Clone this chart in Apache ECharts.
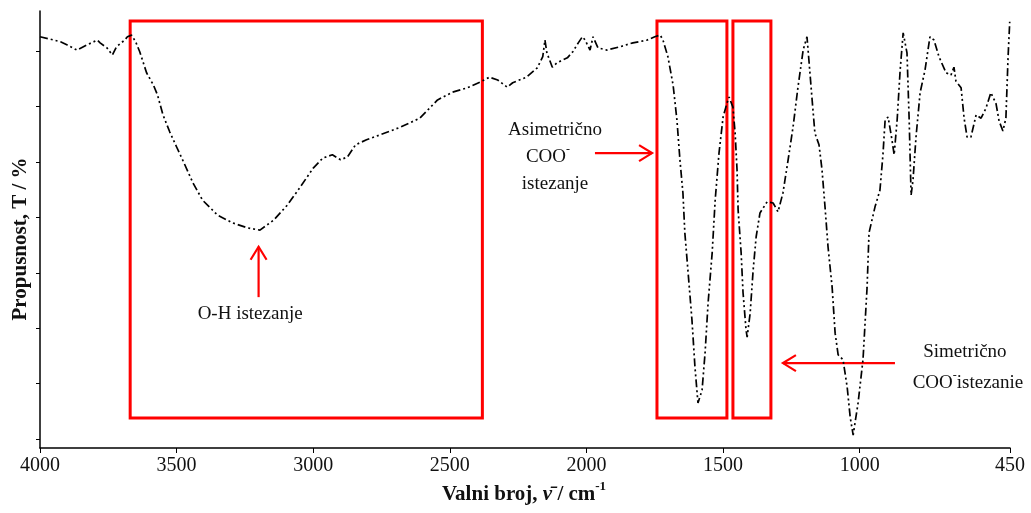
<!DOCTYPE html>
<html>
<head>
<meta charset="utf-8">
<script src="https://cdn.jsdelivr.net/npm/echarts@6/dist/echarts.min.js"></script>
<style>
html,body{margin:0;padding:0;background:#fff;}
#main{width:1031px;height:513px;}
</style>
</head>
<body>
<div id="main"></div>
<script>
// ---- data ----
const wavenumber = [4000,3965,3925,3900,3865,3830,3790,3780,3755,3735,3720,3690,3680,3665,3650,3635,3610,3585,3570,3550,3525,3500,3470,3440,3405,3350,3295,3240,3195,3145,3095,3050,3000,2965,2930,2900,2875,2845,2805,2755,2680,2610,2545,2490,2435,2390,2355,2325,2290,2270,2220,2180,2160,2152,2145,2125,2108,2070,2050,2030,2015,2005,1987,1976,1958,1925,1877,1830,1778,1750,1730,1720,1702,1683,1669,1658,1647,1640,1628,1614,1603,1592,1577,1566,1555,1540,1529,1515,1500,1486,1478,1464,1456,1449,1445,1434,1427,1416,1412,1401,1390,1379,1365,1339,1317,1299,1281,1262,1244,1226,1207,1193,1186,1175,1164,1149,1138,1127,1116,1101,1090,1079,1061,1046,1035,1024,1006,988,973,966,944,926,915,907,896,882,874,863,852,841,827,819,812,805,794,779,761,743,728,710,684,666,655,648,629,618,607,593,574,556,538,520,501,490,476,465,457,451];
const transmittance = [82.6,82.2,81.7,81.1,80.2,81.1,82.0,81.5,80.6,79.3,80.8,82.0,82.6,82.9,81.7,79.9,76.1,73.9,72.1,68.5,65.4,62.7,59.5,56.2,53.1,50.4,49.0,48.1,47.7,49.5,52.2,55.3,58.9,60.7,61.3,60.4,60.9,63.1,64.0,64.9,66.3,67.9,71.2,72.6,73.4,74.4,75.3,74.8,73.5,74.3,75.3,77.0,79.0,82.0,79.7,77.1,77.9,78.8,79.9,81.5,82.6,82.0,80.2,82.6,80.6,80.2,80.8,81.5,82.0,82.6,82.9,82.0,79.0,73.9,67.6,60.4,54.4,47.2,40.0,31.5,23.0,16.5,18.8,25.5,34.5,43.6,53.1,61.6,68.1,70.6,71.7,69.9,65.2,58.6,51.3,43.6,36.4,29.7,28.4,32.7,40.5,46.5,50.8,52.8,52.6,51.0,54.4,60.4,66.3,73.5,80.2,82.6,78.4,71.7,65.2,63.1,58.6,51.9,44.7,37.4,29.1,25.2,24.3,19.4,14.0,10.7,16.5,24.3,37.4,47.2,51.9,54.9,61.3,67.6,68.1,64.0,61.3,67.6,76.6,83.3,79.7,67.6,54.0,56.7,64.5,72.5,76.6,82.6,82.0,79.0,76.1,75.7,77.1,74.6,73.4,67.9,64.5,64.5,68.5,67.9,69.7,72.5,70.5,67.4,65.6,67.9,79.0,85.3];
const xTicks = [4000,3500,3000,2500,2000,1500,1000,450];
const yTicks = [10,20,30,40,50,60,70,80];
// highlighted regions [wn from, wn to, T top, T bottom]
const boxOH = [3670, 2381, 85.45, 13.8];
const boxAsym = [1742, 1486, 85.45, 13.8];
const boxSym = [1464, 1325, 85.45, 13.8];
// arrows [tail wn, tail T, head wn, head T]
const arrowOH = [3200, 35.6, 3200, 44.7];
const arrowAsym = [1969, 61.6, 1760, 61.6];
const arrowSym = [871, 23.7, 1281, 23.7];
// labels
const labelOH = {text:'O-H istezanje', at:[3231, 32.6]};
const labelAsym1 = {text:'Asimetrično', at:[2115, 65.8]};
const labelAsym2 = {text:'COO', at:[2141, 60.9]};
const labelAsym3 = {text:'istezanje', at:[2115, 56.0]};
const labelSym1 = {text:'Simetrično', at:[615, 25.7]};
const labelSym2 = {text:'COO', tail:'istezanie', at:[604, 20.1]};

const FONT = "'Liberation Serif','Times New Roman',serif";
const chart = echarts.init(document.getElementById('main'));
const points = wavenumber.map((w, i) => [w, transmittance[i]]);

function box(b){
  return [{coord:[b[0], b[2]]},{coord:[b[1], b[3]]}];
}

chart.setOption({
  animation:false,
  backgroundColor:'#fff',
  grid:{left:40, right:21, top:11, bottom:65},
  xAxis:{
    type:'value', min:450, max:4000, inverse:true,
    splitLine:{show:false},
    axisLine:{lineStyle:{color:'#000', width:1.5}},
    axisTick:{show:true, length:5, lineStyle:{color:'#000', width:1}, customValues:xTicks},
    axisLabel:{customValues:xTicks, formatter:v => String(v), color:'#111', fontFamily:FONT, fontSize:20, margin:8}
  },
  yAxis:{
    type:'value', min:8.37, max:87.25,
    splitLine:{show:false},
    axisLine:{show:true, lineStyle:{color:'#000', width:1.5}},
    axisTick:{show:true, length:4, lineStyle:{color:'#000', width:1}, customValues:yTicks},
    axisLabel:{show:false}
  },
  series:[{
    type:'line',
    data:points,
    showSymbol:false,
    smooth:false,
    silent:true,
    lineStyle:{color:'#000', width:1.7, type:[8,3,2,3,2,3]},
    markArea:{
      silent:true,
      itemStyle:{color:'rgba(0,0,0,0)', borderColor:'#ff0000', borderWidth:3},
      data:[box(boxOH), box(boxAsym), box(boxSym)]
    }
  }]
});

function P(w, t){ return chart.convertToPixel({gridIndex:0}, [w, t]); }

function arrow(a){
  const p0 = P(a[0], a[1]);
  const p1 = P(a[2], a[3]);
  const dx = p1[0]-p0[0], dy = p1[1]-p0[1];
  const len = Math.hypot(dx, dy);
  const ux = dx/len, uy = dy/len;
  const L = 13, W = 8;
  const bx = p1[0]-ux*L, by = p1[1]-uy*L;
  const s = {stroke:'#ff0000', lineWidth:2.2, fill:null};
  return [
    {type:'line', shape:{x1:p0[0], y1:p0[1], x2:p1[0], y2:p1[1]}, style:s, silent:true},
    {type:'polyline', shape:{points:[[bx-uy*W, by+ux*W],[p1[0],p1[1]],[bx+uy*W, by-ux*W]]}, style:s, silent:true}
  ];
}

function label(l){
  const p = P(l.at[0], l.at[1]);
  return {type:'text', x:p[0], y:p[1], silent:true,
    style:{text:l.text, fontFamily:FONT, fontSize:19, fill:'#111', align:'center', verticalAlign:'middle'}};
}
function richLabel(l, content){
  const p = P(l.at[0], l.at[1]);
  return {type:'text', x:p[0], y:p[1], silent:true,
    style:{text:content, fontFamily:FONT, fontSize:19, fill:'#111', align:'center', verticalAlign:'middle',
      rich:{
        n:{fontFamily:FONT, fontSize:19, fill:'#111'},
        sup:{fontFamily:FONT, fontSize:12, fill:'#111', verticalAlign:'top', padding:[0,0,14,0]}
      }}};
}

const g = [];
[arrowOH, arrowAsym, arrowSym].forEach(a => g.push(...arrow(a)));
g.push(label(labelOH));
g.push(label(labelAsym1));
g.push(richLabel(labelAsym2, '{n|' + labelAsym2.text + '}{sup|-}'));
g.push(label(labelAsym3));
g.push(label(labelSym1));
g.push(richLabel(labelSym2, '{n|' + labelSym2.text + '}{sup|-}{n|' + labelSym2.tail + '}'));

// axis titles
g.push({type:'text', x:21, y:239, rotation:Math.PI/2, silent:true,
  style:{text:'Propusnost, T / %', fontFamily:FONT, fontSize:21, fontWeight:'bold', fill:'#111', align:'center', verticalAlign:'middle'}});
g.push({type:'text', x:524, y:495, silent:true,
  style:{text:'{b|Valni broj, }{i|ν̄ }{b|/ cm}{s|-1}', fontFamily:FONT, fontSize:21, align:'center', verticalAlign:'middle',
    rich:{
      b:{fontFamily:FONT, fontSize:21, fontWeight:'bold', fill:'#111'},
      i:{fontFamily:FONT, fontSize:21, fontWeight:'bold', fontStyle:'italic', fill:'#111'},
      s:{fontFamily:FONT, fontSize:13, fontWeight:'bold', fill:'#111', padding:[0,0,16,0]}
    }}});

chart.setOption({graphic:g});
</script>
</body>
</html>
